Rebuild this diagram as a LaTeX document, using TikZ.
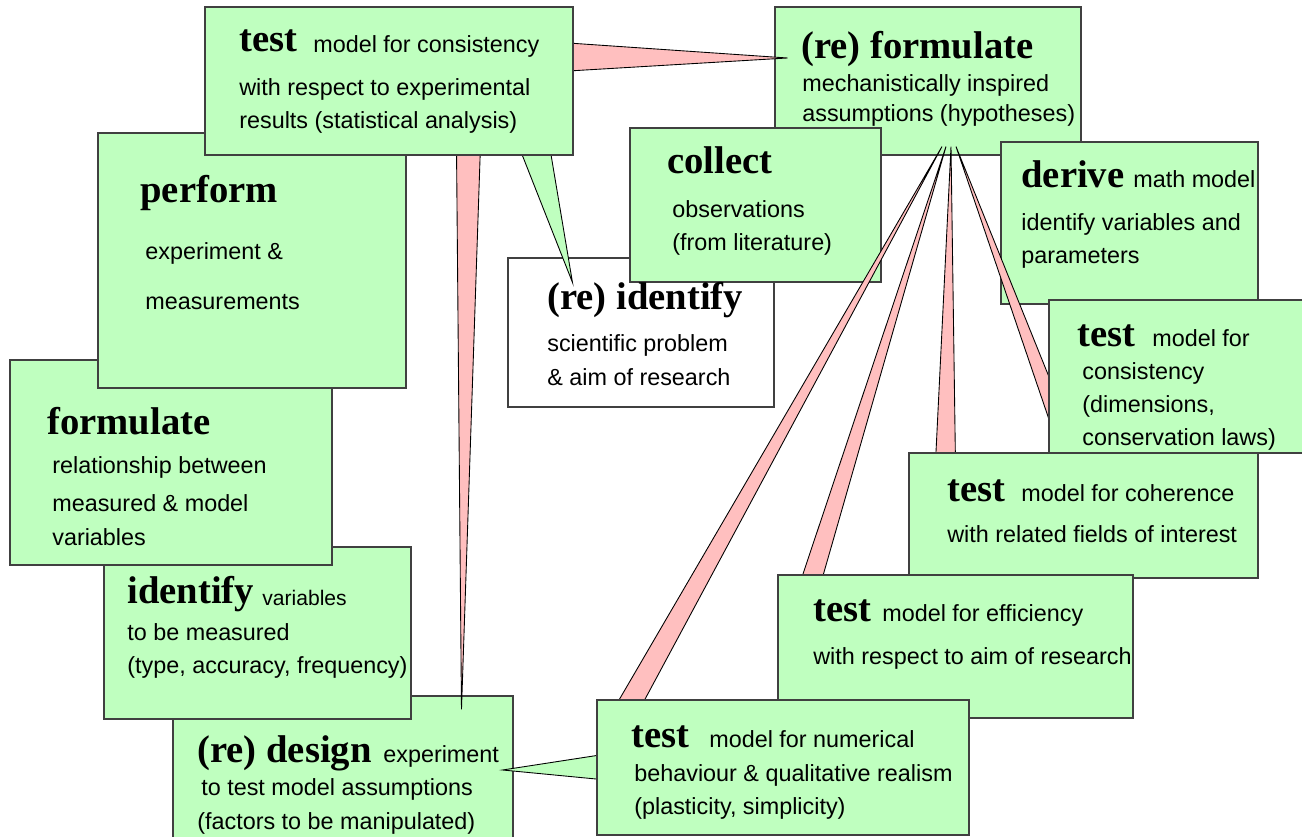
\documentclass[tikz,border=0pt]{standalone}
\usepackage{fontspec}
\setmainfont{Liberation Serif}
\setsansfont{Liberation Sans}
\usepackage{xcolor}
\usepackage{tikz}
\usetikzlibrary{calc, fit}
\definecolor{boxgreen}{RGB}{191,255,191}
\definecolor{wedgepink}{RGB}{255,191,191}
\pgfdeclarelayer{boxback}
\pgfdeclarelayer{wedges}
\pgfsetlayers{boxback,wedges,main}
\tikzset{
    stepbox/.style={draw=black!75, line width=0.6pt, fill=boxgreen, inner sep=0pt},
    keyword/.style={anchor=base west, inner sep=0pt, font=\fontsize{22}{26}\selectfont\bfseries},
    txt/.style={anchor=base west, inner sep=0pt, font=\sffamily\fontsize{13.3}{16}\selectfont},
    smalltxt/.style={txt, font=\sffamily\fontsize{12}{14}\selectfont},
    pinkwedge/.style={draw=black, line width=0.5pt, fill=wedgepink},
    greenwedge/.style={draw=black, line width=0.5pt, fill=boxgreen}
}

\begin{document}
\begin{tikzpicture}[x=0.02cm, y=-0.02cm]
    \useasboundingbox (0,0) rectangle (1302,837);

    \begin{pgfonlayer}{boxback}
    % (re) design
    \node[stepbox, fit={(173,696) (513,850)}] (design) {};
    \node[keyword] (design-kw) at (197,762) {(re) design};
    \node[txt] (design-0) at (383,762) {experiment};
    \node[txt] (design-1) at (201,795) {to test model assumptions};
    \node[txt] (design-2) at (197,829) {(factors to be manipulated)};

    % identify
    \node[stepbox, fit={(104,547) (411,719)}] (identify) {};
    \node[keyword] (identify-kw) at (127,603) {identify};
    \node[smalltxt] (identify-0) at (262,606) {variables};
    \node[txt] (identify-1) at (127,641) {to be measured};
    \node[txt] (identify-2) at (127,673) {(type, accuracy, frequency)};

    % formulate
    \node[stepbox, fit={(10,360) (332,565)}] (formulate) {};
    \node[keyword] (formulate-kw) at (47,435) {formulate};
    \node[txt] (formulate-1) at (52,474) {relationship between};
    \node[txt] (formulate-2) at (52,512) {measured \& model};
    \node[txt] (formulate-3) at (52,546) {variables};

    % perform
    \node[stepbox, fit={(98,133) (406,388)}] (perform) {};
    \node[keyword] (perform-kw) at (140,203) {perform};
    \node[txt] (perform-1) at (145,260) {experiment \&};
    \node[txt] (perform-2) at (145,310) {measurements};

    % (re) formulate
    \node[stepbox, fit={(775,7) (1081,155)}] (reformulate) {};
    \node[keyword] (reformulate-kw) at (801,59) {(re) formulate};
    \node[txt] (reformulate-1) at (802,92) {mechanistically inspired};
    \node[txt] (reformulate-2) at (802,122) {assumptions (hypotheses)};

    % (re) identify
    \node[stepbox, fill=white, fit={(508,258) (774,407)}] (reidentify) {};

    % collect
    \node[stepbox, fit={(630,128) (881,282)}] (collect) {};
    \node[keyword] (collect-kw) at (667,174) {collect};
    \node[txt] (collect-1) at (672,218) {observations};
    \node[txt] (collect-2) at (672,251) {(from literature)};

    \node[keyword] (reidentify-kw) at (547,310) {(re) identify};
    \node[txt] (reidentify-1) at (547,352) {scientific problem};
    \node[txt] (reidentify-2) at (547,386) {\& aim of research};

    % derive
    \node[stepbox, fit={(1001,142) (1258,304)}] (derive) {};
    \node[keyword] (derive-kw) at (1021,188) {derive};
    \node[txt] (derive-0) at (1133,188) {math model};
    \node[txt] (derive-1) at (1021,231) {identify variables and};
    \node[txt] (derive-2) at (1021,264) {parameters};
    \end{pgfonlayer}

    % test: consistency
    \node[stepbox, fit={(1049,300) (1310,453)}] (testCons) {};
    \node[keyword] (testCons-kw) at (1077,347) {test};
    \node[txt] (testCons-0) at (1152,347) {model for};
    \node[txt] (testCons-1) at (1082,380) {consistency};
    \node[txt] (testCons-2) at (1082,413) {(dimensions,};
    \node[txt] (testCons-3) at (1082,446) {conservation laws)};

    % test: coherence
    \node[stepbox, fit={(909,453) (1258,578)}] (testCoh) {};
    \node[keyword] (testCoh-kw) at (947,502) {test};
    \node[txt] (testCoh-0) at (1021,502) {model for coherence};
    \node[txt] (testCoh-1) at (947,543) {with related fields of interest};

    % test: efficiency
    \node[stepbox, fit={(778,575) (1133,718)}] (testEff) {};
    \node[keyword] (testEff-kw) at (813,622) {test};
    \node[txt] (testEff-0) at (882,622) {model for efficiency};
    \node[txt] (testEff-1) at (813,664) {with respect to aim of research};

    % test: numerical behaviour
    \node[stepbox, fit={(597,700) (969,835)}] (testNum) {};
    \node[keyword] (testNum-kw) at (631,747) {test};
    \node[txt] (testNum-0) at (709,747) {model for numerical};
    \node[txt] (testNum-1) at (634,781) {behaviour \& qualitative realism};
    \node[txt] (testNum-2) at (634,814) {(plasticity, simplicity)};

    % test: experimental results
    \node[stepbox, fit={(205,7) (573,155)}] (testExp) {};
    \node[keyword] (testExp-kw) at (239,52) {test};
    \node[txt] (testExp-0) at (313,53) {model for consistency};
    \node[txt] (testExp-1) at (239,96) {with respect to experimental};
    \node[txt] (testExp-2) at (239,129) {results (statistical analysis)};

    \begin{pgfonlayer}{wedges}
    % pointers of the top test box
    \draw[pinkwedge] ($(testExp.north east)+(-13,36)$) -- ($(reformulate.west)+(13,-23)$) -- ($(testExp.north east)+(-13,65)$) -- cycle;
    \draw[pinkwedge] ($(testExp.south west)+(252,-10)$) -- ($(design.north west)+(289,14)$) -- ($(testExp.south west)+(276,-10)$) -- cycle;
    \draw[greenwedge] ($(testExp.south west)+(314,-10)$) -- ($(reidentify.north west)+(65,25)$) -- ($(testExp.south west)+(345,-10)$) -- cycle;

    % pointers of the right test boxes
    \draw[greenwedge] ($(testNum.west)+(10,-13.5)$) -- ($(design.east)+(-11,-3)$) -- ($(testNum.west)+(10,12.5)$) -- cycle;
    \draw[pinkwedge] ($(testNum.north west)+(17,10)$) -- ($(reformulate.south)+(14,-9)$) -- ($(testNum.north west)+(43,10)$) -- cycle;
    \draw[pinkwedge] ($(testEff.north west)+(22,10)$) -- ($(reformulate.south)+(18,-9)$) -- ($(testEff.north west)+(43,10)$) -- cycle;
    \draw[pinkwedge] ($(testCoh.north west)+(27,10)$) -- ($(reformulate.south)+(23,-9)$) -- ($(testCoh.north west)+(47,10)$) -- cycle;
    \draw[pinkwedge] ($(testCons.north west)+(6,91)$) -- ($(reformulate.south)+(28,-9)$) -- ($(testCons.north west)+(6,136)$) -- cycle;
    \end{pgfonlayer}
\end{tikzpicture}
\end{document}
